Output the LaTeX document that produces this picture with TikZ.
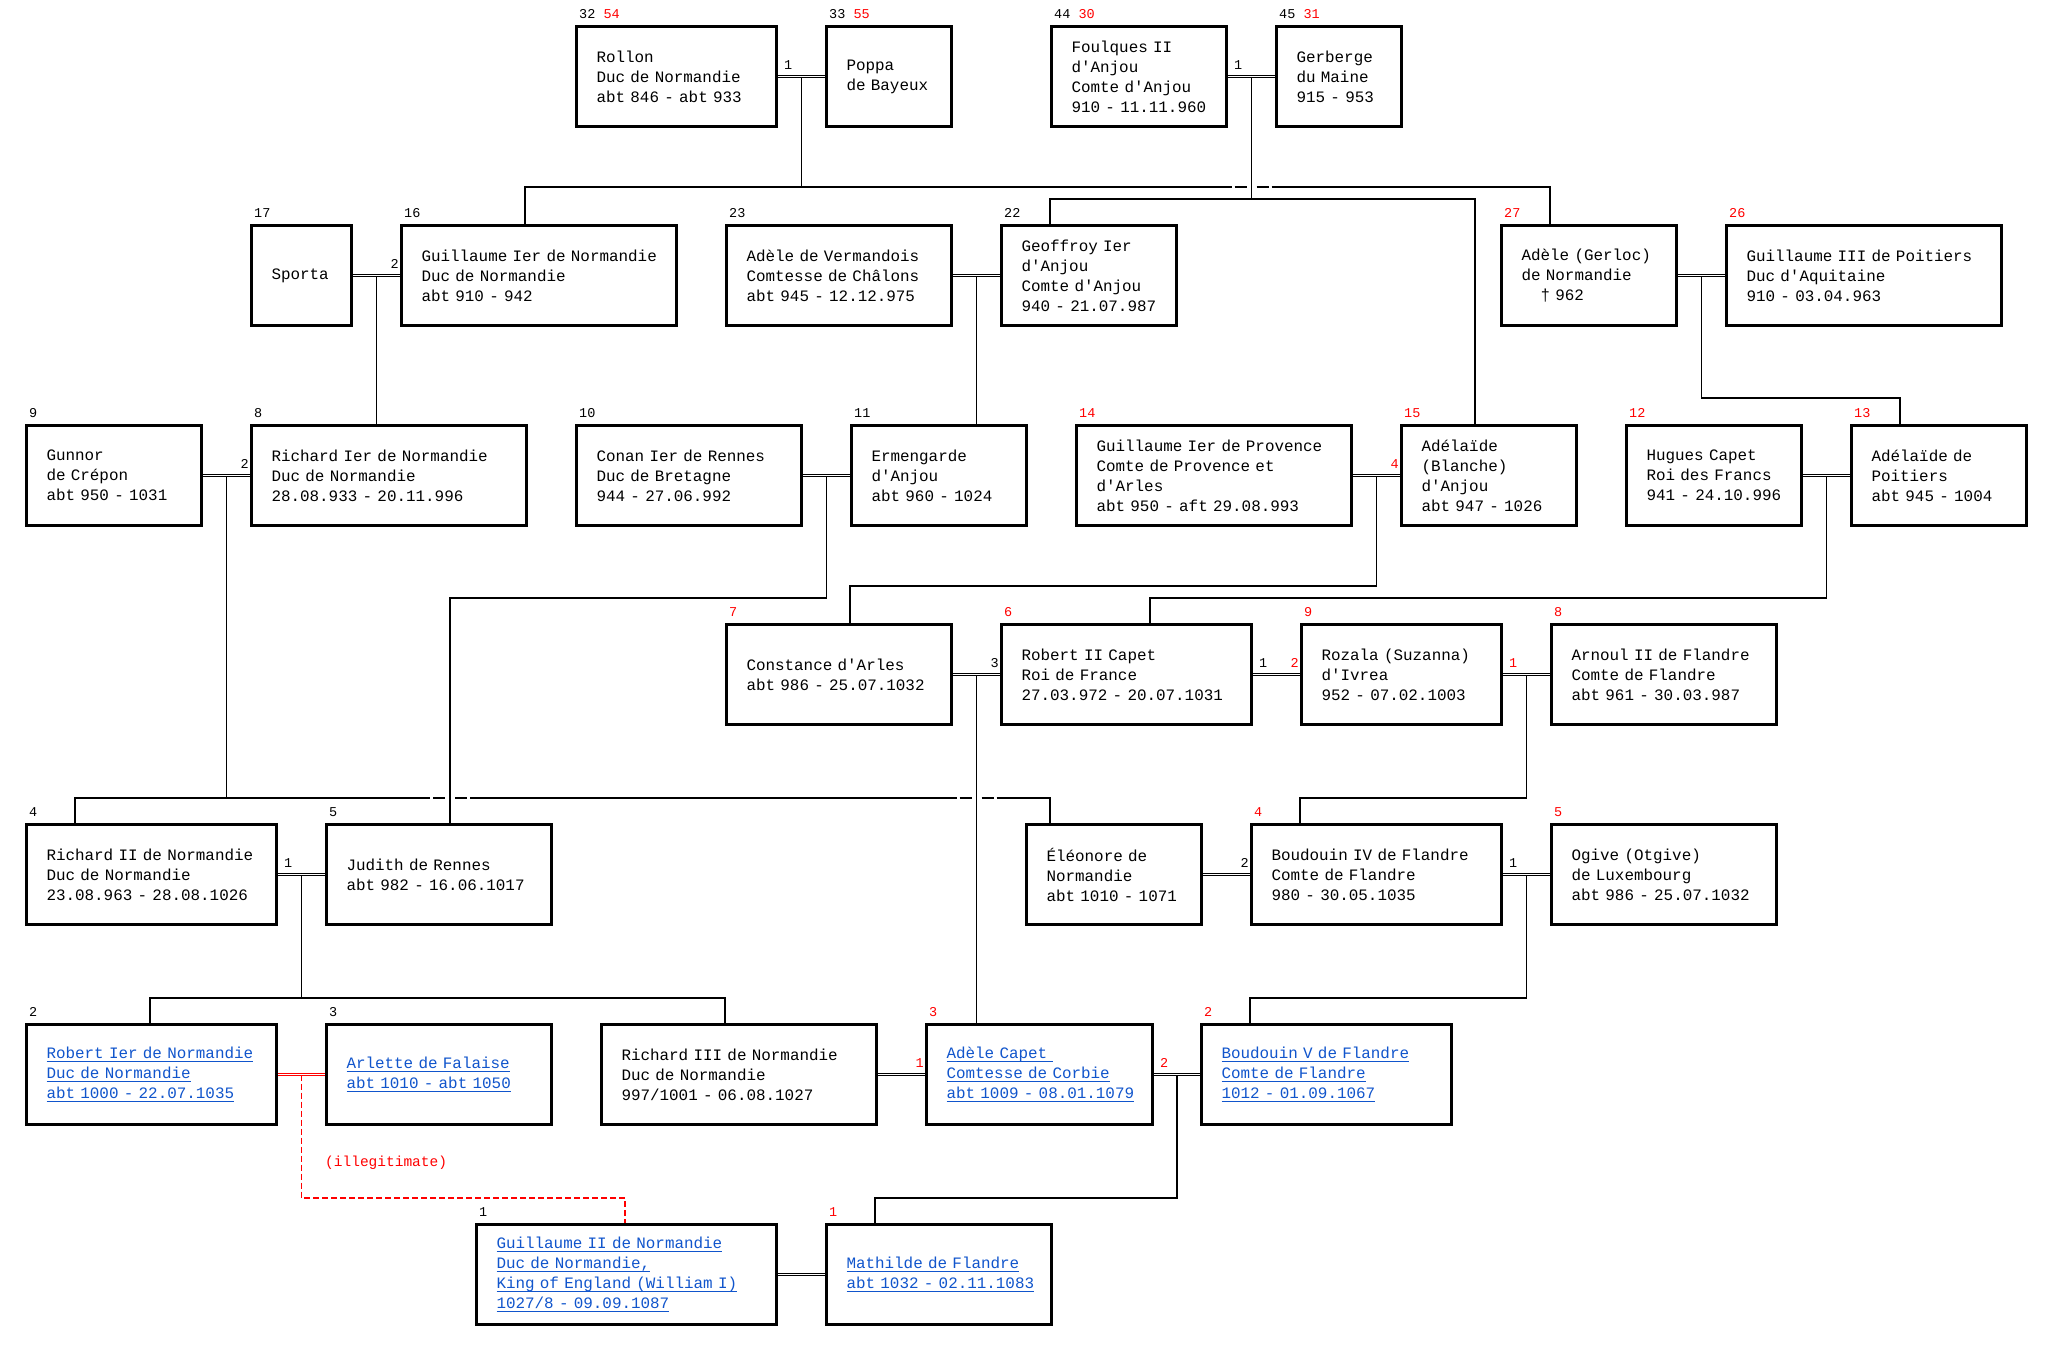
\documentclass[tikz,border=0pt]{standalone}
\usepackage{fontspec}
\usetikzlibrary{calc}
\newfontfamily\monof{Liberation Mono}
\definecolor{linkblue}{RGB}{17,85,204}
\newcommand\boxfont{\monof\fontsize{15.9}{20}\selectfont\hyphenpenalty=10000\exhyphenpenalty=10000\lefthyphenmin=62\hbadness=10000\hfuzz=20pt}
\newcommand\numfont{\monof\fontsize{13.5}{16}\selectfont}
\newcommand\lnk[1]{\leavevmode\setbox0=\hbox{#1}\rlap{\rule[-3pt]{\wd0}{1pt}}\box0}
\tikzset{
  pbox/.style={draw, line width=3pt, anchor=north west, minimum height=100pt,
    text width=#1, inner xsep=20pt, inner ysep=0pt, align=left, font=\boxfont},
  lbox/.style={pbox=#1, text=linkblue},
  num/.style={font=\numfont, anchor=base west, inner sep=0pt},
  mlabl/.style={font=\numfont, anchor=base west, inner sep=0pt},
  mlabr/.style={font=\numfont, anchor=base east, inner sep=0pt},
  desc/.style={line width=1.5pt, black},
  gapline/.style={line width=1.5pt, black, dash pattern=on 0pt off 3pt on 12pt off 10pt on 12pt off 3pt},
  marr/.style={double, line width=1pt, double distance=1.5pt, black},
  marrred/.style={double, line width=1pt, double distance=1.5pt, red},
  illeg/.style={line width=1.5pt, red, dash pattern=on 6pt off 3pt},
}
\begin{document}
\begin{tikzpicture}[x=1pt, y=-1pt]
\fill[white] (0,0) rectangle (2051,1349);
\useasboundingbox (0,0) rectangle (2051,1349);

% ---------- persons ----------
\node[pbox=160pt] (rollon) at (575,25) {Rollon\\Duc~de~Normandie\\abt~846~-~abt~933};
\node[pbox=85pt] (poppa) at (825,25) {Poppa\\de~Bayeux};
\node[pbox=135pt] (foulques) at (1050,25) {Foulques~II\\d'Anjou\\Comte~d'Anjou\\910~-~11.11.960};
\node[pbox=85pt] (gerberge) at (1275,25) {Gerberge\\du~Maine\\915~-~953};

\node[pbox=60pt] (sporta) at (250,224) {Sporta};
\node[pbox=235pt] (guil1) at (400,224) {Guillaume~Ier~de~Normandie\\Duc~de~Normandie\\abt~910~-~942};
\node[pbox=185pt] (adelev) at (725,224) {Adèle~de~Vermandois\\Comtesse~de~Châlons\\abt~945~-~12.12.975};
\node[pbox=135pt] (geoffroy) at (1000,224) {Geoffroy~Ier\\d'Anjou\\Comte~d'Anjou\\940~-~21.07.987};
\node[pbox=135pt] (adeleg) at (1500,224) {Adèle~(Gerloc)\\de~Normandie\\\hspace*{19pt}†~962};
\node[pbox=235pt] (guil3) at (1725,224) {Guillaume~III~de~Poitiers\\Duc~d'Aquitaine\\910~-~03.04.963};

\node[pbox=135pt] (gunnor) at (25,424) {Gunnor\\de~Crépon\\abt~950~-~1031};
\node[pbox=235pt] (richard1) at (250,424) {Richard~Ier~de~Normandie\\Duc~de~Normandie\\28.08.933~-~20.11.996};
\node[pbox=185pt] (conan) at (575,424) {Conan~Ier~de~Rennes\\Duc~de~Bretagne\\944~-~27.06.992};
\node[pbox=135pt] (ermengarde) at (850,424) {Ermengarde\\d'Anjou\\abt~960~-~1024};
\node[pbox=235pt] (guilprov) at (1075,424) {Guillaume~Ier~de~Provence\\Comte~de~Provence~et\\d'Arles\\abt~950~-~aft~29.08.993};
\node[pbox=135pt] (adelbl) at (1400,424) {Adélaïde\\(Blanche)\\d'Anjou\\abt~947~-~1026};
\node[pbox=135pt] (hugues) at (1625,424) {Hugues~Capet\\Roi~des~Francs\\941~-~24.10.996};
\node[pbox=135pt] (adelp) at (1850,424) {Adélaïde~de\\Poitiers\\abt~945~-~1004};

\node[pbox=185pt] (constance) at (725,623) {Constance~d'Arles\\abt~986~-~25.07.1032};
\node[pbox=210pt] (robert2) at (1000,623) {Robert~II~Capet\\Roi~de~France\\27.03.972~-~20.07.1031};
\node[pbox=160pt] (rozala) at (1300,623) {Rozala~(Suzanna)\\d'Ivrea\\952~-~07.02.1003};
\node[pbox=185pt] (arnoul) at (1550,623) {Arnoul~II~de~Flandre\\Comte~de~Flandre\\abt~961~-~30.03.987};

\node[pbox=210pt] (richard2) at (25,823) {Richard~II~de~Normandie\\Duc~de~Normandie\\23.08.963~-~28.08.1026};
\node[pbox=185pt] (judith) at (325,823) {Judith~de~Rennes\\abt~982~-~16.06.1017};
\node[pbox=135pt] (eleonore) at (1025,823) {Éléonore~de\\Normandie\\abt~1010~-~1071};
\node[pbox=210pt] (boud4) at (1250,823) {Boudouin~IV~de~Flandre\\Comte~de~Flandre\\980~-~30.05.1035};
\node[pbox=185pt] (ogive) at (1550,823) {Ogive~(Otgive)\\de~Luxembourg\\abt~986~-~25.07.1032};

\node[lbox=210pt] (robert1) at (25,1023) {\lnk{Robert Ier de Normandie}\\\lnk{Duc de Normandie}\\\lnk{abt 1000 - 22.07.1035}};
\node[lbox=185pt] (arlette) at (325,1023) {\lnk{Arlette de Falaise}\\\lnk{abt 1010 - abt 1050}};
\node[pbox=235pt] (richard3) at (600,1023) {Richard~III~de~Normandie\\Duc~de~Normandie\\997/1001~-~06.08.1027};
\node[lbox=186pt] (adelec) at (925,1023) {\lnk{Adèle Capet\ }\\\lnk{Comtesse de Corbie}\\\lnk{abt 1009 - 08.01.1079}};
\node[lbox=210pt] (boud5) at (1200,1023) {\lnk{Boudouin V de Flandre}\\\lnk{Comte de Flandre}\\\lnk{1012 - 01.09.1067}};

\node[lbox=260pt] (guil2) at (475,1223) {\lnk{Guillaume II de Normandie}\\\lnk{Duc de Normandie,}\\\lnk{King of England (William I)}\\\lnk{1027/8 - 09.09.1087}};
\node[lbox=185pt] (mathilde) at (825,1223) {\lnk{Mathilde de Flandre}\\\lnk{abt 1032 - 02.11.1083}};

% ---------- generation numbers ----------
\node[num] (n-rollon) at ($(rollon.north west)+(4,-7)$) {32 \textcolor{red}{54}};
\node[num] (n-poppa) at ($(poppa.north west)+(4,-7)$) {33 \textcolor{red}{55}};
\node[num] (n-foulques) at ($(foulques.north west)+(4,-7)$) {44 \textcolor{red}{30}};
\node[num] (n-gerberge) at ($(gerberge.north west)+(4,-7)$) {45 \textcolor{red}{31}};
\node[num] (n-sporta) at ($(sporta.north west)+(4,-7)$) {17};
\node[num] (n-guil1) at ($(guil1.north west)+(4,-7)$) {16};
\node[num] (n-adelev) at ($(adelev.north west)+(4,-7)$) {23};
\node[num] (n-geoffroy) at ($(geoffroy.north west)+(4,-7)$) {22};
\node[num, red] (n-adeleg) at ($(adeleg.north west)+(4,-7)$) {27};
\node[num, red] (n-guil3) at ($(guil3.north west)+(4,-7)$) {26};
\node[num] (n-gunnor) at ($(gunnor.north west)+(4,-7)$) {9};
\node[num] (n-richard1) at ($(richard1.north west)+(4,-7)$) {8};
\node[num] (n-conan) at ($(conan.north west)+(4,-7)$) {10};
\node[num] (n-ermengarde) at ($(ermengarde.north west)+(4,-7)$) {11};
\node[num, red] (n-guilprov) at ($(guilprov.north west)+(4,-7)$) {14};
\node[num, red] (n-adelbl) at ($(adelbl.north west)+(4,-7)$) {15};
\node[num, red] (n-hugues) at ($(hugues.north west)+(4,-7)$) {12};
\node[num, red] (n-adelp) at ($(adelp.north west)+(4,-7)$) {13};
\node[num, red] (n-constance) at ($(constance.north west)+(4,-7)$) {7};
\node[num, red] (n-robert2) at ($(robert2.north west)+(4,-7)$) {6};
\node[num, red] (n-rozala) at ($(rozala.north west)+(4,-7)$) {9};
\node[num, red] (n-arnoul) at ($(arnoul.north west)+(4,-7)$) {8};
\node[num] (n-richard2) at ($(richard2.north west)+(4,-7)$) {4};
\node[num] (n-judith) at ($(judith.north west)+(4,-7)$) {5};
\node[num, red] (n-boud4) at ($(boud4.north west)+(4,-7)$) {4};
\node[num, red] (n-ogive) at ($(ogive.north west)+(4,-7)$) {5};
\node[num] (n-robert1) at ($(robert1.north west)+(4,-7)$) {2};
\node[num] (n-arlette) at ($(arlette.north west)+(4,-7)$) {3};
\node[num, red] (n-adelec) at ($(adelec.north west)+(4,-7)$) {3};
\node[num, red] (n-boud5) at ($(boud5.north west)+(4,-7)$) {2};
\node[num] (n-guil2) at ($(guil2.north west)+(4,-7)$) {1};
\node[num, red] (n-mathilde) at ($(mathilde.north west)+(4,-7)$) {1};

% ---------- helper coordinates ----------
\coordinate (m1) at ($(rollon.east)!.5!(poppa.west)$);
\coordinate (m2) at ($(foulques.east)!.5!(gerberge.west)$);
\coordinate (m3) at ($(sporta.east)!.5!(guil1.west)$);
\coordinate (m4) at ($(adelev.east)!.5!(geoffroy.west)$);
\coordinate (m5) at ($(adeleg.east)!.5!(guil3.west)$);
\coordinate (m6) at ($(gunnor.east)!.5!(richard1.west)$);
\coordinate (m7) at ($(conan.east)!.5!(ermengarde.west)$);
\coordinate (m8) at ($(guilprov.east)!.5!(adelbl.west)$);
\coordinate (m9) at ($(hugues.east)!.5!(adelp.west)$);
\coordinate (m10) at ($(constance.east)!.5!(robert2.west)$);
\coordinate (m11) at ($(rozala.east)!.5!(arnoul.west)$);
\coordinate (m12) at ($(richard2.east)!.5!(judith.west)$);
\coordinate (m13) at ($(boud4.east)!.5!(ogive.west)$);
\coordinate (m14) at ($(adelec.east)!.5!(boud5.west)$);
\coordinate (m15) at ($(robert1.east)!.5!(arlette.west)$);

\coordinate (y187) at (0,187);
\coordinate (y199) at (0,199);
\coordinate (y398) at (0,398);
\coordinate (y586) at (0,586);
\coordinate (y598) at (0,598);
\coordinate (y798) at (0,798);
\coordinate (y998) at (0,998);
\coordinate (y1198) at (0,1198);

\coordinate (t-guil1) at ($(guil1.north west)+(125,0)$);
\coordinate (t-adeleg) at ($(adeleg.north west)+(50,0)$);
\coordinate (t-geoffroy) at ($(geoffroy.north west)+(50,0)$);
\coordinate (t-adelbl) at ($(adelbl.north west)+(75,0)$);
\coordinate (t-adelp) at ($(adelp.north west)+(50,0)$);
\coordinate (t-richard2) at ($(richard2.north west)+(50,0)$);
\coordinate (t-eleonore) at ($(eleonore.north west)+(25,0)$);
\coordinate (t-judith) at ($(judith.north west)+(125,0)$);
\coordinate (t-constance) at ($(constance.north west)+(125,0)$);
\coordinate (t-robert2) at ($(robert2.north west)+(150,0)$);
\coordinate (t-boud4) at ($(boud4.north west)+(50,0)$);
\coordinate (t-robert1) at ($(robert1.north west)+(125,0)$);
\coordinate (t-richard3) at ($(richard3.north west)+(125,0)$);
\coordinate (t-boud5) at ($(boud5.north west)+(50,0)$);
\coordinate (t-mathilde) at ($(mathilde.north west)+(50,0)$);
\coordinate (t-guil2) at ($(guil2.north west)+(150,0)$);

% crossing gaps
\coordinate (ga1) at ($(m2 |- y187)+(-20,0)$);
\coordinate (ga2) at ($(m2 |- y187)+(20,0)$);
\coordinate (gb1) at ($(t-judith |- y798)+(-20,0)$);
\coordinate (gb2) at ($(t-judith |- y798)+(20,0)$);
\coordinate (gc1) at ($(m10 |- y798)+(-20,0)$);
\coordinate (gc2) at ($(m10 |- y798)+(20,0)$);

% ---------- descent lines ----------
\draw[desc] (m1) -- (m1 |- y187);
\draw[desc] (t-guil1) |- (ga1);
\draw[gapline] (ga1) -- (ga2);
\draw[desc] (ga2) -| (t-adeleg);

\draw[desc] (m2) -- (m2 |- y199);
\draw[desc] (t-geoffroy) -- (t-geoffroy |- y199) -| (t-adelbl);

\draw[desc] (m3) -- (m3 |- richard1.north);
\draw[desc] (m4) -- (m4 |- ermengarde.north);
\draw[desc] (m5) -- (m5 |- y398) -| (t-adelp);

\draw[desc] (m6) -- (m6 |- y798);
\draw[desc] (t-richard2) |- (gb1);
\draw[gapline] (gb1) -- (gb2);
\draw[desc] (gb2) -- (gc1);
\draw[gapline] (gc1) -- (gc2);
\draw[desc] (gc2) -| (t-eleonore);

\draw[desc] (m7) -- (m7 |- y598) -| (t-judith);
\draw[desc] (m8) -- (m8 |- y586) -| (t-constance);
\draw[desc] (m9) -- (m9 |- y598) -| (t-robert2);
\draw[desc] (m10) -- (m10 |- adelec.north);
\draw[desc] (m11) -- (m11 |- y798) -| (t-boud4);

\draw[desc] (m12) -- (m12 |- y998);
\draw[desc] (t-robert1) -- (t-robert1 |- y998) -| (t-richard3);
\draw[desc] (m13) -- (m13 |- y998) -| (t-boud5);
\draw[desc] (m14) -- (m14 |- y1198) -| (t-mathilde);
\draw[illeg] (m15) -- (m15 |- y1198) -| (t-guil2);

% ---------- marriages ----------
\draw[marr] (rollon.east) -- (poppa.west);
\draw[marr] (foulques.east) -- (gerberge.west);
\draw[marr] (sporta.east) -- (guil1.west);
\draw[marr] (adelev.east) -- (geoffroy.west);
\draw[marr] (adeleg.east) -- (guil3.west);
\draw[marr] (gunnor.east) -- (richard1.west);
\draw[marr] (conan.east) -- (ermengarde.west);
\draw[marr] (guilprov.east) -- (adelbl.west);
\draw[marr] (hugues.east) -- (adelp.west);
\draw[marr] (constance.east) -- (robert2.west);
\draw[marr] (robert2.east) -- (rozala.west);
\draw[marr] (rozala.east) -- (arnoul.west);
\draw[marr] (richard2.east) -- (judith.west);
\draw[marr] (eleonore.east) -- (boud4.west);
\draw[marr] (boud4.east) -- (ogive.west);
\draw[marrred] (robert1.east) -- (arlette.west);
\draw[marr] (richard3.east) -- (adelec.west);
\draw[marr] (adelec.east) -- (boud5.west);
\draw[marr] (guil2.east) -- (mathilde.west);

% ---------- marriage numbers ----------
\node[mlabl] (k1) at ($(rollon.east)+(6,-7)$) {1};
\node[mlabl] (k2) at ($(foulques.east)+(6,-7)$) {1};
\node[mlabr] (k3) at ($(guil1.west)+(-1,-7)$) {2};
\node[mlabr] (k4) at ($(richard1.west)+(-1,-7)$) {2};
\node[mlabr, red] (k5) at ($(adelbl.west)+(-1,-7)$) {4};
\node[mlabr] (k6) at ($(robert2.west)+(-1,-7)$) {3};
\node[mlabl] (k7) at ($(robert2.east)+(6,-7)$) {1};
\node[mlabr, red] (k8) at ($(rozala.west)+(-1,-7)$) {2};
\node[mlabl, red] (k9) at ($(rozala.east)+(6,-7)$) {1};
\node[mlabl] (k10) at ($(richard2.east)+(6,-7)$) {1};
\node[mlabr] (k11) at ($(boud4.west)+(-1,-7)$) {2};
\node[mlabl] (k12) at ($(boud4.east)+(6,-7)$) {1};
\node[mlabr, red] (k13) at ($(adelec.west)+(-1,-7)$) {1};
\node[mlabl, red] (k14) at ($(adelec.east)+(6,-7)$) {2};

\node[font=\monof\fontsize{14.5}{18}\selectfont, red, anchor=base west, inner sep=0pt] (illegit) at (325,1166) {(illegitimate)};
\end{tikzpicture}
\end{document}
